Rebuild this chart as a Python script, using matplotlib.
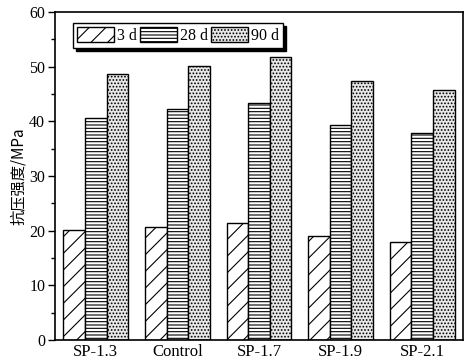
import matplotlib
matplotlib.use("Agg")
import matplotlib.pyplot as plt
import numpy as np

categories = ["SP-1.3", "Control", "SP-1.7", "SP-1.9", "SP-2.1"]
series_names = ["3 d", "28 d", "90 d"]
d3 = [20.1, 20.7, 21.4, 19.0, 17.9]
d28 = [40.6, 42.2, 43.4, 39.3, 37.8]
d90 = [48.7, 50.1, 51.8, 47.3, 45.8]
yticks = [0, 10, 20, 30, 40, 50, 60]
ylabel = "抗压强度/MPa"

plt.rcParams['font.family'] = ['Liberation Serif', 'Noto Sans CJK SC']
plt.rcParams['hatch.linewidth'] = 0.8

fig = plt.figure(figsize=(4.65, 3.63), dpi=100)
ax = fig.add_axes([0.118, 0.063, 0.878, 0.904])

x = np.arange(len(categories))
w = 0.265
styles = [
    dict(hatch='//', facecolor='white'),
    dict(hatch='-----', facecolor='white'),
    dict(hatch='.....', facecolor='#e8e8e8'),
]
for i, (vals, name, st) in enumerate(zip([d3, d28, d90], series_names, styles)):
    ax.bar(x + (i - 1) * w, vals, width=w, edgecolor='black', linewidth=1.0,
           label=name, **st)

ax.set_xlim(-0.5, 4.5)
ax.set_ylim(0, 60)
ax.set_yticks(yticks)
ax.set_yticks(np.arange(5, 60, 10), minor=True)
ax.set_xticks(x)
ax.set_xticklabels(categories, fontsize=12)
ax.tick_params(axis='x', length=0, pad=3)
ax.tick_params(axis='y', which='major', length=5, width=1, direction='out', labelsize=11.5, pad=2)
ax.tick_params(axis='y', which='minor', length=3, width=1, direction='out')
for s in ax.spines.values():
    s.set_linewidth(1.2)

ax.set_ylabel(ylabel, family=['Noto Sans CJK SC', 'DejaVu Sans'], fontsize=11, labelpad=1.5)

leg = ax.legend(loc='upper left', bbox_to_anchor=(0.044, 0.966), ncol=3, fontsize=11.5,
                frameon=True, fancybox=False, shadow={'color': 'black', 'alpha': 1},
                handlelength=2.3, handleheight=1.1, handletextpad=0.2,
                columnspacing=0.2, borderpad=0.25, borderaxespad=0)
leg.get_frame().set_edgecolor('black')
leg.get_frame().set_linewidth(1.0)

fig.savefig("out.png", dpi=100)
